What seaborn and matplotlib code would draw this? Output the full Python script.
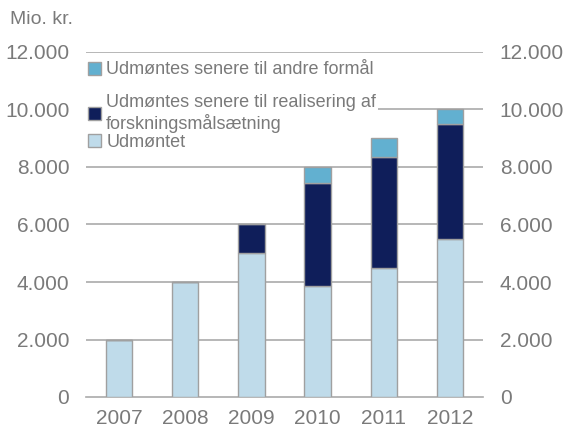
import numpy as np
import pandas as pd
import matplotlib.pyplot as plt
import seaborn as sns
from matplotlib.patches import Patch
from matplotlib.ticker import FuncFormatter

years = ["2007", "2008", "2009", "2010", "2011", "2012"]
udmoentet = [2000, 4000, 5000, 3850, 4500, 5500]
realisering = [0, 0, 1000, 3600, 3850, 4000]
andre = [0, 0, 0, 550, 650, 500]

labels = ["Udmøntes senere til andre formål",
          "Udmøntes senere til realisering af\nforskningsmålsætning",
          "Udmøntet"]
colors = ["#62B0D0", "#0F1E5A", "#BFDBEA"]

sns.set_style("white")
plt.rcParams["font.family"] = ["Liberation Sans", "DejaVu Sans"]
grey = "#7a7a7a"
edge = "#a0a0a0"

fig = plt.figure(figsize=(5.64, 4.34), dpi=100)
ax = fig.add_axes([86 / 564, 37 / 434, 397 / 564, 345 / 434])

# right-hand axis only carries the mirrored tick labels, keep it behind
ax2 = ax.twinx()
ax.set_zorder(ax2.get_zorder() + 1)
ax.patch.set_visible(False)

df = pd.DataFrame({"year": years, "a": udmoentet, "b": realisering, "c": andre})
bottom_c = df["a"] + df["b"]

sns.barplot(data=df, x="year", y="a", color=colors[2], width=0.4,
            edgecolor=edge, linewidth=1, saturation=1, ax=ax, zorder=3)
sns.barplot(data=df, x="year", y="b", bottom=df["a"], color=colors[1], width=0.4,
            edgecolor=edge, linewidth=1, saturation=1, ax=ax, zorder=3)
sns.barplot(data=df, x="year", y="c", bottom=bottom_c, color=colors[0], width=0.4,
            edgecolor=edge, linewidth=1, saturation=1, ax=ax, zorder=3)

ax.set_ylim(0, 12000)
ax.set_xlim(-0.5, 5.5)
ticks = np.arange(0, 12001, 2000)
ax.set_yticks(ticks)
fmt = FuncFormatter(lambda v, p: f"{int(v):,}".replace(",", "."))
ax.yaxis.set_major_formatter(fmt)
for y in ticks[1:]:
    ax.axhline(y, color="#aaaaaa", lw=1.2, zorder=1)
ax.set_xlabel("")
ax.set_ylabel("")
for s in ["top", "right", "left"]:
    ax.spines[s].set_visible(False)
ax.spines["bottom"].set_color("#aaaaaa")
ax.spines["bottom"].set_linewidth(1.2)

ax.set_xticks(np.arange(-0.5, 6, 1), minor=True)
ax.tick_params(axis="x", which="minor", length=7, width=1.2, color="#aaaaaa")
ax.tick_params(axis="x", which="major", length=0, labelsize=15, labelcolor=grey, pad=9)
ax.tick_params(axis="y", length=0, labelsize=15, labelcolor=grey, pad=12)

ax2.set_ylim(ax.get_ylim())
ax2.set_yticks(ticks)
ax2.yaxis.set_major_formatter(fmt)
ax2.tick_params(axis="y", length=0, labelsize=15, labelcolor=grey, pad=12)
for s in ax2.spines.values():
    s.set_visible(False)

handles = [Patch(facecolor=c, edgecolor=edge) for c in colors]
leg_kw = dict(frameon=True, fontsize=13, labelcolor=grey, handlelength=0.72,
              handleheight=0.72, handletextpad=0.3, borderaxespad=0,
              borderpad=0.1, bbox_transform=fig.transFigure)
leg1 = ax.legend(handles[:1], labels[:1], loc="center left",
                 bbox_to_anchor=(86 / 564, 1 - 70 / 434), **leg_kw)
leg1.get_frame().set_edgecolor("none")
leg1.set_zorder(2)
ax.add_artist(leg1)
leg2 = ax.legend(handles[1:], labels[1:], loc="upper left", labelspacing=0.05,
                 bbox_to_anchor=(86 / 564, 1 - 92 / 434), **leg_kw)
leg2.get_frame().set_facecolor("white")
leg2.get_frame().set_edgecolor("none")
leg2.get_frame().set_alpha(1)
leg2.set_zorder(2)

fig.text(10 / 564, 1 - 20 / 434, "Mio. kr.", fontsize=14, color=grey, va="center")

plt.savefig("out.png", dpi=100)
